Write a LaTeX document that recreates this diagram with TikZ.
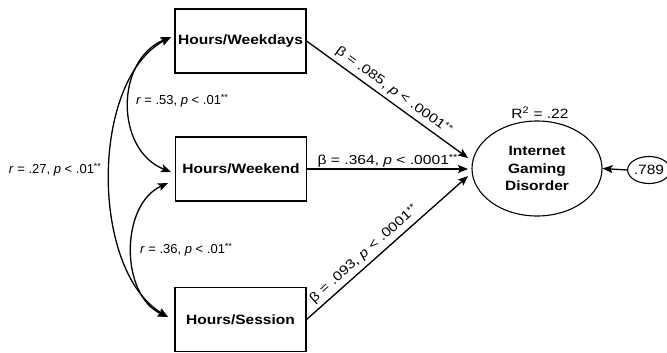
\documentclass[tikz,border=0pt]{standalone}
\usepackage{fontspec}
\setmainfont{Liberation Sans}
\newfontfamily\widefont{Liberation Sans}[FakeStretch=1.15]
\newfontfamily\wlabfont{Liberation Sans}[FakeStretch=1.2]
\newcommand\twostars{\raisebox{3.5pt}{\fontsize{9}{9}\selectfont **}}
\usetikzlibrary{arrows.meta,shapes.geometric}
\begin{document}
\begin{tikzpicture}[x=1pt,y=-1pt,
  varbox/.style={draw,line width=1.1pt,minimum width=131pt,minimum height=64pt,inner sep=0pt,
    font=\widefont\bfseries\fontsize{13.5}{16}\selectfont},
  lab/.style={font=\fontsize{13}{15}\selectfont,inner sep=1pt},
  blab/.style={font=\wlabfont\fontsize{13}{15}\selectfont,inner sep=1.5pt},
  tip/.style={-{Stealth[length=10pt,width=8pt,inset=2pt]}},
  both/.style={{Stealth[length=10pt,width=8pt,inset=2pt]}-{Stealth[length=10pt,width=8pt,inset=2pt]}},
  conn/.style={line width=1.3pt},
]
\useasboundingbox (0,0) rectangle (667,353);
\node[varbox] (wd) at (240.5,41) {Hours/Weekdays};
\node[varbox] (we) at (241,169) {Hours/Weekend};
\node[varbox] (se) at (240.5,319.5) {Hours/Session};
\node[draw,ellipse,line width=1.1pt,minimum width=130pt,minimum height=95pt,inner sep=0pt,align=center,
  font=\widefont\bfseries\fontsize{13.5}{17.5}\selectfont] (igd) at (537,168.5) {Internet\\Gaming\\Disorder};
\node[draw,ellipse,line width=1.1pt,minimum width=31pt,minimum height=27pt,inner sep=0pt,
  font=\widefont\fontsize{13.5}{16}\selectfont] (err) at (649,170) {.789};
\node[blab,font=\widefont\fontsize{13.5}{15}\selectfont] (r2) at (540,113) {R\textsuperscript{2} = .22};

\coordinate (e1) at (468,158);
\coordinate (e2) at (468,169);
\coordinate (e3) at (468,176);

\draw[conn,tip] (wd.east) -- node[blab,sloped,above=2.5pt,pos=0.5] (l1) {β = .085, \textit{p} < .0001\twostars} (e1);
\draw[conn,tip] (we.east) -- node[blab,above,pos=0.5] (l2) {β = .364, \textit{p} < .0001\twostars} (e2);
\draw[conn,tip] (se.east) -- node[blab,sloped,above=2.5pt,pos=0.4] (l3) {β = .093, \textit{p} < .0001\twostars} (e3);
\draw[conn,tip] (err.west) -- (igd.east);

\coordinate (a1) at (171,37);
\coordinate (a2) at (171,172);
\coordinate (a3) at (168,183);
\coordinate (a4) at (168,317);
\draw[conn,both] (a1) .. controls (115,60) and (115,150) .. (a2);
\draw[conn,both] (a3) .. controls (120,205) and (120,295) .. (a4);
\draw[conn,both] (a1) .. controls (90,80) and (90,270) .. (a4);

\node[lab] (r1) at (182,101) {\textit{r} = .53, \textit{p} < .01\twostars};
\node[lab] (r3) at (186,250) {\textit{r} = .36, \textit{p} < .01\twostars};
\node[lab] (r2c) at (55,170) {\textit{r} = .27, \textit{p} < .01\twostars};
\end{tikzpicture}
\end{document}
